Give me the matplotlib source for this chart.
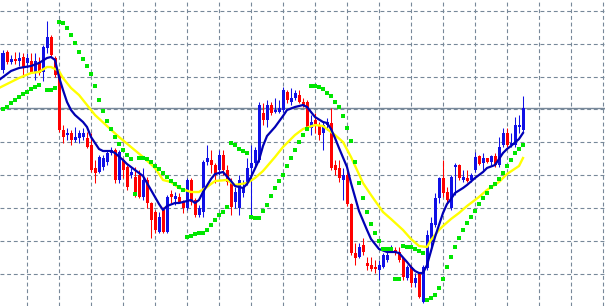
import numpy as np
import matplotlib
matplotlib.use("Agg")
import matplotlib.pyplot as plt

# price units are arbitrary (chart has no price scale shown)
opens = [230, 248, 238, 241, 239, 243, 237, 239, 228, 238,
         228, 252, 263, 242, 225, 170, 165, 167, 160, 162,
         163, 162, 155, 132, 128, 133, 138, 147, 150, 120,
         140, 133, 125, 123, 125, 103, 120, 97, 88, 68,
         90, 68, 106, 101, 103, 98, 92, 120, 100, 85,
         88, 138, 140, 135, 130, 145, 130, 118, 98, 92,
         107, 118, 132, 137, 140, 187, 180, 195, 188, 188,
         190, 208, 198, 202, 205, 198, 198, 172, 180, 175,
         167, 175, 177, 135, 132, 120, 125, 96, 47, 43,
         55, 37, 35, 33, 30, 33, 40, 50, 50, 48,
         42, 22, 33, 17, 27, -2, 32, 58, 75, 102,
         122, 108, 92, 133, 135, 120, 122, 120, 130, 144,
         137, 142, 138, 144, 135, 155, 167, 155, 155, 173,
         170]
highs = [250, 250, 245, 248, 248, 247, 247, 247, 247, 243,
         255, 279, 265, 244, 228, 175, 172, 170, 173, 170,
         172, 168, 167, 140, 145, 145, 150, 153, 152, 150,
         142, 135, 132, 133, 130, 132, 123, 98, 90, 88,
         93, 105, 110, 108, 107, 100, 122, 122, 102, 95,
         140, 155, 150, 137, 150, 150, 135, 122, 113, 125,
         120, 142, 155, 153, 198, 197, 200, 198, 202, 200,
         213, 210, 212, 210, 210, 202, 200, 185, 187, 178,
         178, 182, 192, 140, 140, 132, 130, 97, 57, 57,
         62, 43, 43, 40, 40, 47, 52, 55, 53, 53,
         43, 35, 35, 27, 28, 35, 70, 83, 107, 123,
         140, 113, 125, 137, 136, 130, 130, 127, 148, 145,
         147, 142, 145, 147, 163, 172, 172, 167, 183, 185,
         204]
lows = [227, 236, 236, 236, 234, 225, 232, 227, 220, 225,
        219, 247, 243, 223, 168, 157, 160, 155, 158, 157,
        160, 152, 128, 117, 127, 130, 135, 145, 117, 117,
        122, 110, 122, 103, 102, 100, 92, 62, 67, 67,
        67, 67, 97, 95, 97, 87, 90, 95, 83, 83,
        83, 135, 127, 117, 125, 125, 115, 85, 92, 85,
        103, 115, 83, 133, 138, 175, 173, 185, 187, 187,
        188, 197, 195, 200, 197, 193, 170, 165, 167, 160,
        150, 170, 130, 125, 118, 100, 94, 45, 35, 42,
        45, 30, 29, 27, 20, 32, 38, 48, 45, 38,
        20, 20, 13, 13, 2, -3, 30, 53, 73, 97,
        103, 97, 90, 105, 120, 118, 118, 118, 128, 135,
        130, 137, 135, 133, 133, 153, 153, 153, 153, 167,
        168]
closes = [247, 238, 241, 239, 242, 233, 242, 228, 239, 227,
          253, 263, 245, 225, 170, 163, 167, 160, 163, 167,
          167, 153, 130, 127, 143, 142, 147, 150, 120, 148,
          130, 113, 128, 107, 103, 120, 97, 80, 70, 83,
          68, 103, 103, 104, 98, 92, 120, 98, 85, 92,
          138, 142, 135, 125, 145, 130, 118, 93, 108, 120,
          113, 132, 137, 150, 195, 180, 195, 187, 190, 192,
          210, 200, 202, 207, 198, 195, 172, 178, 174, 165,
          175, 178, 132, 130, 122, 125, 96, 47, 42, 53,
          48, 34, 31, 31, 35, 45, 45, 53, 47, 40,
          23, 33, 17, 22, 3, 33, 65, 77, 102, 122,
          107, 100, 123, 135, 122, 123, 119, 125, 143, 136,
          142, 138, 144, 135, 153, 167, 155, 157, 175, 175,
          192]

# parabolic SAR dots, one per bar (nan = not visible)
sar = [191, 193, 197, 200, 203, 206, 208, 211, 213, 215,
       np.nan, 210, 210, 212, 278, 277, 272, 265, 257, 248,
       241, 234, 226, 214, 200, 189, 179, 171, 163, 156,
       150, 145, 141, 106, 142, 142, 141, 138, 134, 131,
       127, 123, 119, 116, 113, 110, 63, 64, 66, 67,
       67, 70, 75, 80, 85, 88, 93, 157, 155, 151,
       149, 147, 83, 82, 82, 89, 95, 104, 112, 119,
       125, 134, 142, 150, 158, 165, 171, 214, 214, 213,
       211, 207, 204, 198, 193, 184, 172, 159, 138, 117,
       102, 88, 76, 67, 59, 51, 51, 51, 21, 21,
       54, 53, 53, 51, 49, 47, 0, 2, 5, 12,
       21, 33, 43, 53, 62, 70, 77, 83, 89, 96,
       102, 107, 113, 116, 121, 127, 134, 140, 147, 151,
       155]

# fast moving average (blue), read at bar positions
fast_idx = [-1, 2, 4, 7, 9, 11, 12, 13, 14, 15, 16, 17, 18, 20, 21, 22, 23, 24, 25, 27,
            28, 30, 31, 33, 35, 36, 38, 39, 40, 41, 43, 44, 47, 48, 49, 50, 52, 53, 55, 57,
            58, 60, 61, 62, 64, 65, 66, 68, 70, 71, 73, 75, 76, 78, 80, 81, 82, 83, 84, 86,
            87, 88, 89, 91, 92, 94, 96, 98, 99, 101, 102, 103, 104, 105, 106, 107, 108, 109,
            110, 111, 112, 113, 115, 116, 118, 120, 121, 123, 125, 126, 127, 129, 130]
fast_val = [220, 229, 232, 234, 237, 242, 243, 240, 223, 210, 198, 190, 185, 178, 173, 163, 157, 151, 149, 149,
            147, 140, 136, 130, 124, 117, 103, 96, 90, 94, 97, 97, 100, 97, 100, 108, 121, 126, 128, 119,
            114, 112, 116, 123, 140, 154, 164, 173, 184, 190, 193, 195, 193, 183, 178, 177, 171, 162, 152, 133,
            117, 103, 89, 70, 61, 51, 48, 48, 47, 38, 33, 29, 27, 27, 35, 49, 63, 75,
            87, 96, 101, 107, 112, 115, 122, 128, 132, 135, 147, 151, 154, 161, 167]

# slow moving average (yellow)
slow_idx = [-1, 2, 4, 7, 9, 11, 12, 14, 15, 17, 19, 21, 23, 26, 29, 32, 35, 38, 40, 42,
            44, 47, 49, 51, 53, 56, 58, 61, 63, 65, 68, 70, 73, 75, 78, 80, 83, 85, 87, 90,
            92, 95, 97, 100, 102, 104, 106, 107, 109, 110, 112, 114, 116, 119, 121, 124, 126, 129, 130]
slow_val = [212, 218, 222, 227, 228, 233, 233, 229, 222, 212, 205, 195, 185, 174, 163, 153, 143, 132, 120, 118,
            112, 108, 108, 113, 119, 120, 115, 117, 122, 129, 143, 153, 165, 171, 175, 174, 165, 158, 143, 117,
            105, 88, 81, 70, 61, 54, 53, 60, 70, 74, 81, 87, 94, 103, 110, 118, 126, 134, 142]

grid_col = '#778899'
bull_col = '#1010e6'
bear_col = '#ff0000'

fig = plt.figure(figsize=(6.05, 3.06), dpi=100)
ax = fig.add_axes([0, 0, 1, 1])

idx = np.arange(len(closes))
o = np.array(opens)
c = np.array(closes)
cols = [bull_col if cc >= oo else bear_col for oo, cc in zip(o, c)]

ax.vlines(idx, lows, highs, colors=cols, linewidth=0.75, zorder=2)
body = np.maximum(np.abs(c - o), 1)
ax.bar(idx, body, bottom=np.minimum(o, c), width=0.75, color=cols,
       linewidth=0, zorder=3)

ax.plot(slow_idx, slow_val, color='#ffff00', linewidth=1.7, zorder=4)
ax.plot(fast_idx, fast_val, color='#0000b4', linewidth=1.6, zorder=5)
ax.plot(idx, sar, linestyle='none', marker='s', markersize=2.3,
        color='#00e600', markeredgewidth=0, zorder=6)

# bid line at the last close
ax.axhline(closes[-1], color=grid_col, linewidth=1.0, zorder=1)

ax.set_xlim(-0.75, 150.5)
ax.set_ylim(-6, 300)
ax.set_xticks(np.arange(6, 151, 8))
ax.set_yticks(289.3 - 32.9 * np.arange(9))
ax.grid(True, color=grid_col, linestyle=(0, (3.5, 2.5)), linewidth=0.8, zorder=0)
ax.set_axisbelow(True)
ax.tick_params(length=0, labelleft=False, labelbottom=False)
for s in ax.spines.values():
    s.set_visible(False)

fig.savefig('out.png', dpi=100)
